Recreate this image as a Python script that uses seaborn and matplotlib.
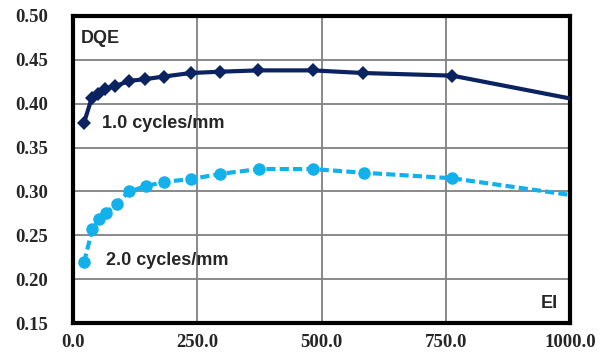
import matplotlib
matplotlib.use("Agg")
import matplotlib.pyplot as plt
import seaborn as sns
import pandas as pd

ei_1 = [22, 38, 50, 64, 85, 113, 145, 183, 237, 296, 373, 482, 584, 763, 1000]
dqe_1 = [0.378, 0.407, 0.411, 0.417, 0.420, 0.426, 0.428, 0.431, 0.435, 0.4365, 0.438, 0.438, 0.435, 0.432, 0.406]
ei_2 = [22, 39, 53, 66, 88, 113, 147, 184, 237, 296, 374, 482, 585, 763, 1000]
dqe_2 = [0.219, 0.257, 0.268, 0.275, 0.286, 0.300, 0.306, 0.311, 0.314, 0.320, 0.3255, 0.3255, 0.3213, 0.315, 0.296]
x_ticks = [0, 250, 500, 750, 1000]
y_ticks = [0.15, 0.20, 0.25, 0.30, 0.35, 0.40, 0.45, 0.50]

sns.set_style("white")
fig = plt.figure(figsize=(6.11, 3.54), dpi=100)
ax = fig.add_axes([73/611, 1-323/354, (570-73)/611, (323-16)/354])

df1 = pd.DataFrame({"EI": ei_1, "DQE": dqe_1})
df2 = pd.DataFrame({"EI": ei_2, "DQE": dqe_2})

sns.lineplot(data=df1, x="EI", y="DQE", ax=ax, color="#0b2361", linewidth=3,
             marker="D", markersize=7, markeredgewidth=0, markevery=list(range(len(ei_1)-1)),
             zorder=3)
sns.lineplot(data=df2, x="EI", y="DQE", ax=ax, color="#13b1ec", linewidth=3,
             linestyle=(0, (2.2, 1.0)), marker="o", markersize=9, markeredgewidth=0,
             markevery=list(range(len(ei_2)-1)), zorder=3)

ax.set_xlim(0, 1000)
ax.set_ylim(0.15, 0.50)
ax.set_xticks(x_ticks)
ax.set_yticks(y_ticks)
ax.set_xticklabels([f"{v:.1f}" for v in x_ticks])
ax.set_yticklabels([f"{v:.2f}" for v in y_ticks])
ax.grid(True, color="#808080", linewidth=1.3)
ax.set_axisbelow(True)
ax.set_xlabel("")
ax.set_ylabel("")
for s in ax.spines.values():
    s.set_color("black")
    s.set_linewidth(3)
ax.tick_params(axis="both", length=0, labelsize=13.5)
ax.tick_params(axis="y", pad=18)
ax.tick_params(axis="x", pad=8)
for lab in ax.get_xticklabels() + ax.get_yticklabels():
    lab.set_fontfamily("Liberation Serif")
    lab.set_fontweight("bold")

ax.text(0.016, 0.955, "DQE", transform=ax.transAxes, fontsize=13, fontweight="bold",
        family="Liberation Sans", va="top", ha="left")
ax.text(0.975, 0.035, "EI", transform=ax.transAxes, fontsize=13, fontweight="bold",
        family="Liberation Sans", va="bottom", ha="right")
ax.text(58, 0.377, "1.0 cycles/mm", fontsize=13, fontweight="bold",
        family="Liberation Sans", va="center", ha="left")
ax.text(66, 0.221, "2.0 cycles/mm", fontsize=13, fontweight="bold",
        family="Liberation Sans", va="center", ha="left")

fig.savefig("out.png", dpi=100)
